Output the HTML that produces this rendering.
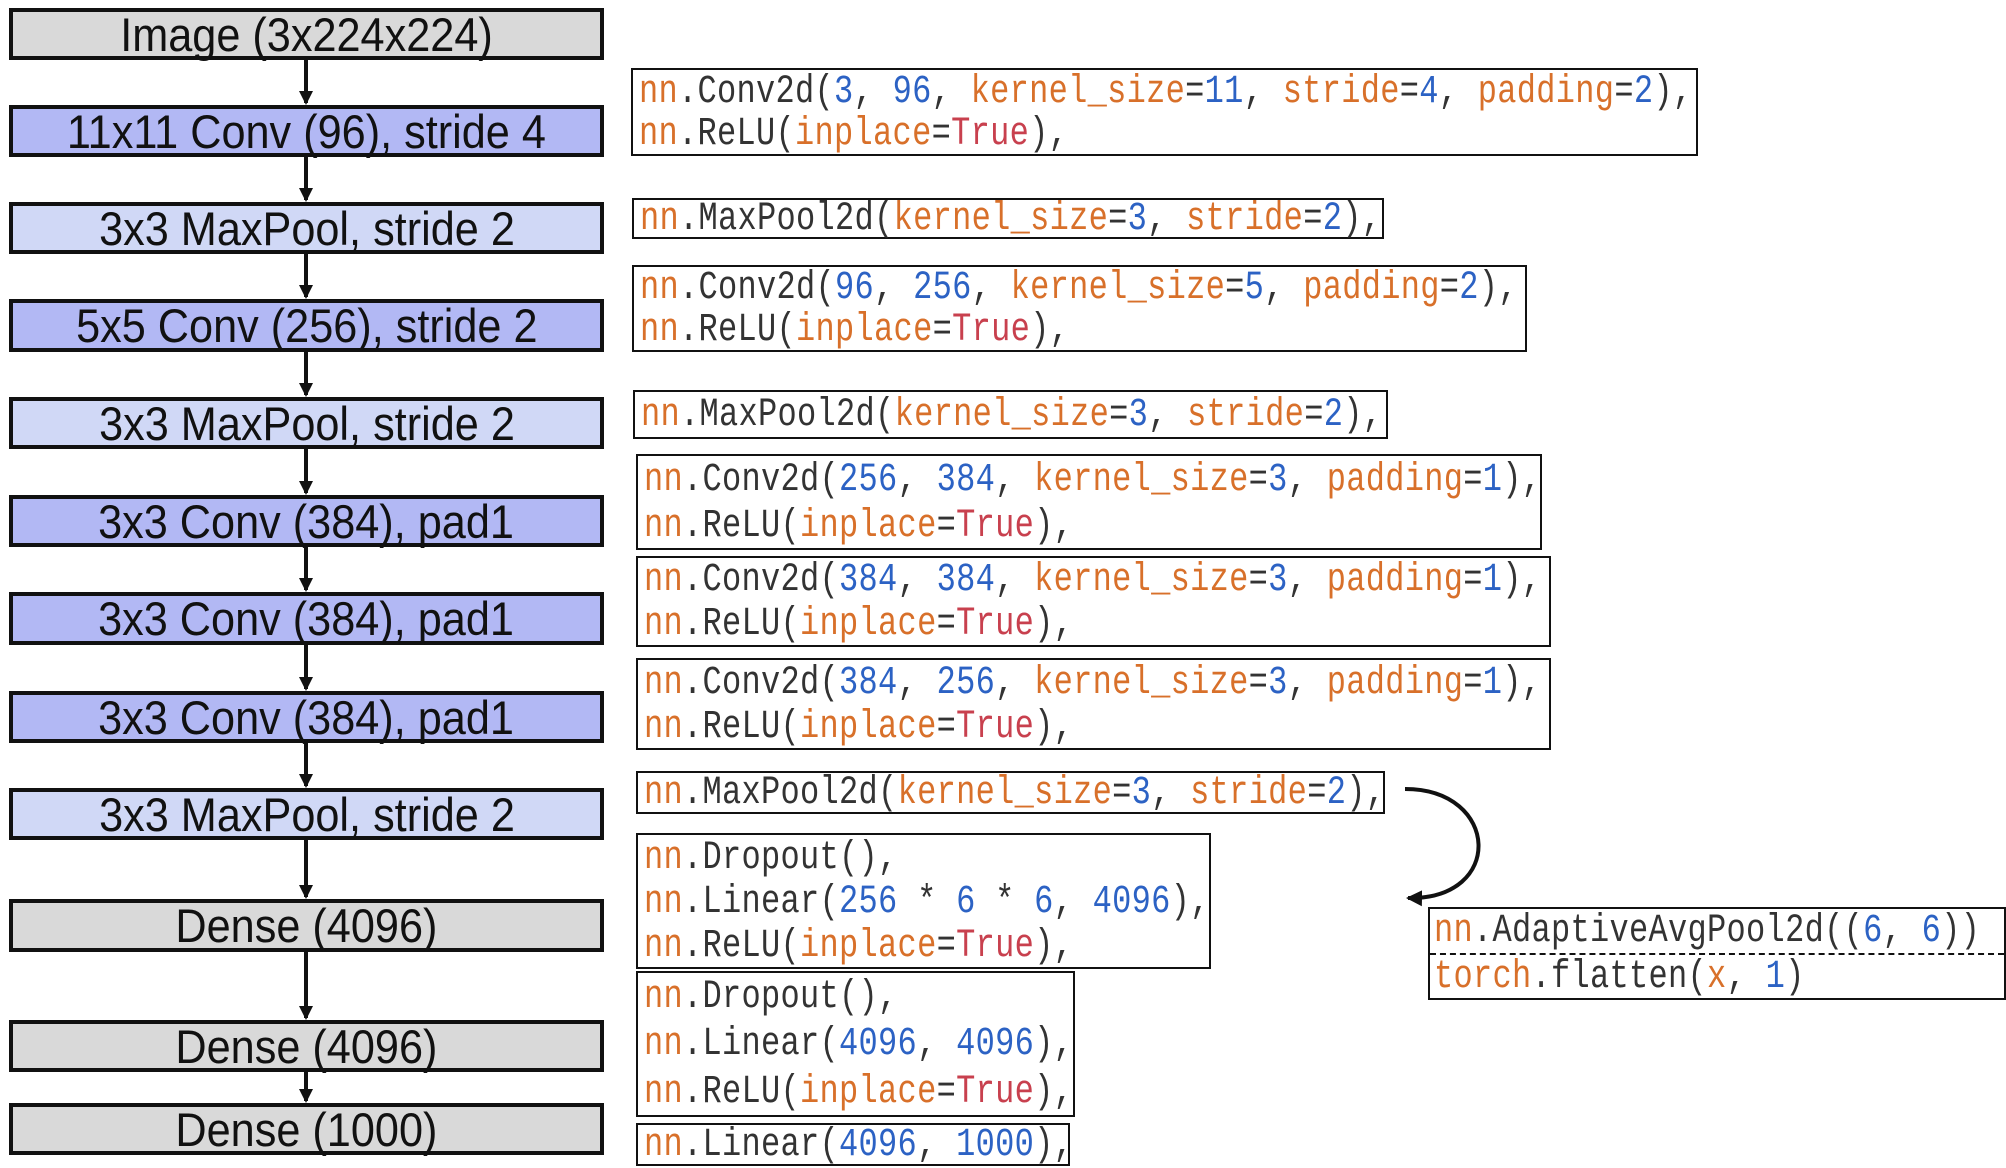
<!DOCTYPE html>
<html><head><meta charset="utf-8"><style>
body{margin:0;width:2006px;height:1168px;background:#fff;position:relative;overflow:hidden;font-family:"Liberation Sans",sans-serif}
.L{position:absolute;left:9px;width:595px;border:4px solid #111;display:flex;align-items:center;justify-content:center;font-size:47px;color:#111;box-sizing:border-box}
.L span{display:inline-block;transform:scaleX(0.92)}
.g{background:#d9d9d9}.d{background:#b2b8f4}.l{background:#d0d8f6}
.C{position:absolute;border:2px solid #111;box-sizing:border-box;background:#fff;display:flex;flex-direction:column;justify-content:space-around;padding-left:6px;font-family:"Liberation Mono",monospace;font-size:32px;color:#333;white-space:pre}
.C div{transform:scaleY(1.25);transform-origin:left center;letter-spacing:0.3px}
.o{color:#d8702a}.b{color:#2c62c4}.r{color:#c8404e}
</style></head><body>
<div class="L g" style="top:8px;height:52px"><span>Image (3x224x224)</span></div>
<div class="L d" style="top:105px;height:52px"><span>11x11 Conv (96), stride 4</span></div>
<div class="L l" style="top:202px;height:52px"><span>3x3 MaxPool, stride 2</span></div>
<div class="L d" style="top:299px;height:53px"><span>5x5 Conv (256), stride 2</span></div>
<div class="L l" style="top:397px;height:52px"><span>3x3 MaxPool, stride 2</span></div>
<div class="L d" style="top:495px;height:52px"><span>3x3 Conv (384), pad1</span></div>
<div class="L d" style="top:592px;height:53px"><span>3x3 Conv (384), pad1</span></div>
<div class="L d" style="top:691px;height:52px"><span>3x3 Conv (384), pad1</span></div>
<div class="L l" style="top:788px;height:52px"><span>3x3 MaxPool, stride 2</span></div>
<div class="L g" style="top:899px;height:53px"><span>Dense (4096)</span></div>
<div class="L g" style="top:1020px;height:52px"><span>Dense (4096)</span></div>
<div class="L g" style="top:1103px;height:52px"><span>Dense (1000)</span></div>

<svg width="2006" height="1168" style="position:absolute;left:0;top:0" fill="none">
<defs><marker id="a" markerWidth="14" markerHeight="14" refX="12" refY="7" orient="auto" markerUnits="userSpaceOnUse"><path d="M0,0 L14,7 L0,14 z" fill="#111"/></marker>
<marker id="h" markerWidth="20" markerHeight="20" refX="14" refY="8" orient="auto" markerUnits="userSpaceOnUse"><path d="M0,0 L16,8 L0,16 z" fill="#111"/></marker></defs>
<g stroke="#111" stroke-width="4">
<path d="M306 60V103" marker-end="url(#a)"/>
<path d="M306 157V200" marker-end="url(#a)"/>
<path d="M306 254V297" marker-end="url(#a)"/>
<path d="M306 352V395" marker-end="url(#a)"/>
<path d="M306 449V493" marker-end="url(#a)"/>
<path d="M306 547V590" marker-end="url(#a)"/>
<path d="M306 645V689" marker-end="url(#a)"/>
<path d="M306 743V786" marker-end="url(#a)"/>
<path d="M306 840V897" marker-end="url(#a)"/>
<path d="M306 952V1018" marker-end="url(#a)"/>
<path d="M306 1072V1101" marker-end="url(#a)"/>
<path d="M1405 789 C1500 789 1505 900 1408 898" stroke-width="4" marker-end="url(#h)"/>
</g></svg>

<div class="C" style="left:631px;top:68px;width:1067px;height:88px"><div><span class="o">nn</span>.Conv2d(<span class="b">3</span>, <span class="b">96</span>, <span class="o">kernel_size</span>=<span class="b">11</span>, <span class="o">stride</span>=<span class="b">4</span>, <span class="o">padding</span>=<span class="b">2</span>),</div><div><span class="o">nn</span>.ReLU(<span class="o">inplace</span>=<span class="r">True</span>),</div></div>
<div class="C" style="left:632px;top:198px;width:752px;height:41px"><div><span class="o">nn</span>.MaxPool2d(<span class="o">kernel_size</span>=<span class="b">3</span>, <span class="o">stride</span>=<span class="b">2</span>),</div></div>
<div class="C" style="left:632px;top:265px;width:895px;height:87px"><div><span class="o">nn</span>.Conv2d(<span class="b">96</span>, <span class="b">256</span>, <span class="o">kernel_size</span>=<span class="b">5</span>, <span class="o">padding</span>=<span class="b">2</span>),</div><div><span class="o">nn</span>.ReLU(<span class="o">inplace</span>=<span class="r">True</span>),</div></div>
<div class="C" style="left:633px;top:390px;width:755px;height:49px"><div><span class="o">nn</span>.MaxPool2d(<span class="o">kernel_size</span>=<span class="b">3</span>, <span class="o">stride</span>=<span class="b">2</span>),</div></div>
<div class="C" style="left:636px;top:454px;width:906px;height:96px"><div><span class="o">nn</span>.Conv2d(<span class="b">256</span>, <span class="b">384</span>, <span class="o">kernel_size</span>=<span class="b">3</span>, <span class="o">padding</span>=<span class="b">1</span>),</div><div><span class="o">nn</span>.ReLU(<span class="o">inplace</span>=<span class="r">True</span>),</div></div>
<div class="C" style="left:636px;top:556px;width:915px;height:91px"><div><span class="o">nn</span>.Conv2d(<span class="b">384</span>, <span class="b">384</span>, <span class="o">kernel_size</span>=<span class="b">3</span>, <span class="o">padding</span>=<span class="b">1</span>),</div><div><span class="o">nn</span>.ReLU(<span class="o">inplace</span>=<span class="r">True</span>),</div></div>
<div class="C" style="left:636px;top:658px;width:915px;height:92px"><div><span class="o">nn</span>.Conv2d(<span class="b">384</span>, <span class="b">256</span>, <span class="o">kernel_size</span>=<span class="b">3</span>, <span class="o">padding</span>=<span class="b">1</span>),</div><div><span class="o">nn</span>.ReLU(<span class="o">inplace</span>=<span class="r">True</span>),</div></div>
<div class="C" style="left:636px;top:771px;width:749px;height:43px"><div><span class="o">nn</span>.MaxPool2d(<span class="o">kernel_size</span>=<span class="b">3</span>, <span class="o">stride</span>=<span class="b">2</span>),</div></div>
<div class="C" style="left:636px;top:833px;width:575px;height:136px"><div><span class="o">nn</span>.Dropout(),</div><div><span class="o">nn</span>.Linear(<span class="b">256</span> * <span class="b">6</span> * <span class="b">6</span>, <span class="b">4096</span>),</div><div><span class="o">nn</span>.ReLU(<span class="o">inplace</span>=<span class="r">True</span>),</div></div>
<div class="C" style="left:636px;top:971px;width:439px;height:146px"><div><span class="o">nn</span>.Dropout(),</div><div><span class="o">nn</span>.Linear(<span class="b">4096</span>, <span class="b">4096</span>),</div><div><span class="o">nn</span>.ReLU(<span class="o">inplace</span>=<span class="r">True</span>),</div></div>
<div class="C" style="left:636px;top:1123px;width:434px;height:43px"><div><span class="o">nn</span>.Linear(<span class="b">4096</span>, <span class="b">1000</span>),</div></div>
<div class="C" style="left:1428px;top:907px;width:578px;height:93px;justify-content:flex-start;padding-left:4px"><div style="height:44px;line-height:44px"><span class="o">nn</span>.AdaptiveAvgPool2d((<span class="b">6</span>, <span class="b">6</span>))</div><div style="border-top:2px dashed #111;height:44px;line-height:44px;margin-left:-4px;padding-left:4px;transform:none"><span style="display:inline-block;transform:scaleY(1.25)"><span class="o">torch</span>.flatten(<span class="o">x</span>, <span class="b">1</span>)</span></div></div>
</body></html>
